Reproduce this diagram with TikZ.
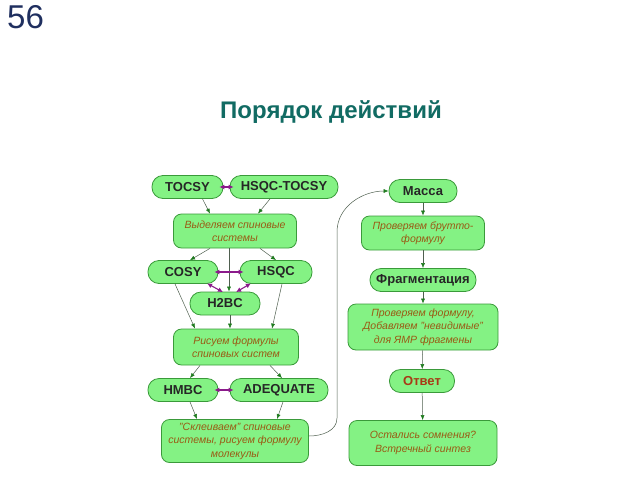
\documentclass[tikz,border=0pt]{standalone}
\usepackage{fontspec}
\setmainfont{Liberation Sans}
\usepackage{xcolor}
\usetikzlibrary{arrows.meta, positioning}

\definecolor{boxfill}{HTML}{84F284}
\definecolor{boxline}{HTML}{3A9A3A}
\definecolor{tipgreen}{HTML}{1E7A1E}
\definecolor{linegray}{HTML}{4F5F4F}
\definecolor{pairline}{HTML}{8B1A8B}
\definecolor{notetext}{HTML}{9A5A14}
\definecolor{answertext}{HTML}{A83A16}
\definecolor{titleteal}{HTML}{116B63}
\definecolor{pagenum}{HTML}{1F2F5F}

\begin{document}
\begin{tikzpicture}[
  x=1pt, y=-1pt,
  box/.style={draw=boxline, fill=boxfill, line width=0.8pt, inner sep=0pt,
              align=center, minimum height=23pt},
  meth/.style={box, rounded corners=11pt, text=black!85,
               font=\fontsize{13}{15}\selectfont\bfseries},
  note/.style={box, rounded corners=8pt, text=notetext,
               font=\fontsize{10.5}{13.5}\selectfont\itshape},
  fl/.style={-{Latex[length=5pt, width=4pt, color=tipgreen]}, draw=linegray, line width=0.5pt},
  pr/.style={{Latex[length=5pt, width=5pt]}-{Latex[length=5pt, width=5pt]}, draw=pairline,
             line width=1.1pt, shorten <=-4pt, shorten >=-4pt}
]
\useasboundingbox (0,0) rectangle (640,480);
\node[anchor=north west, text=pagenum, font=\fontsize{33}{36}\selectfont, inner sep=0pt] (num) at (7,5) {56};
\node[text=titleteal, font=\fontsize{24}{28}\selectfont\bfseries] (title) at (331,112) {Порядок действий};

% left column: NMR
\node[meth, minimum width=71pt] (tocsy) at (187.5,187) {TOCSY};
\node[meth, minimum width=108pt] (hsqctocsy) at (284,187) {HSQC-TOCSY};
\node[note, minimum width=123pt, minimum height=34pt] (spin) at (235,231) {Выделяем спиновые\\системы};
\node[meth, minimum width=70pt] (cosy) at (183,272) {COSY};
\node[meth, minimum width=72pt] (hsqc) at (276,272) {HSQC};
\node[meth, minimum width=70pt] (htbc) at (225,303.5) {H2BC};
\node[note, minimum width=125pt, minimum height=36pt] (draw1) at (236,347) {Рисуем формулы\\спиновых систем};
\node[meth, minimum width=70pt] (hmbc) at (183,390) {HMBC};
\node[meth, minimum width=98pt] (adeq) at (279,390) {ADEQUATE};
\node[note, minimum width=147pt, minimum height=43pt] (glue) at (235,441) {"Склеиваем" спиновые\\системы, рисуем формулу\\молекулы};

% right column: MS
\node[meth, minimum width=68pt] (mass) at (423,191) {Масса};
\node[note, minimum width=123pt, minimum height=34pt] (gross) at (423,233) {Проверяем брутто-\\формулу};
\node[meth, minimum width=106pt] (frag) at (423,280) {Фрагментация};
\node[note, minimum width=150pt, minimum height=46pt] (check) at (423,327) {Проверяем формулу,\\Добавляем "невидимые"\\для ЯМР фрагмены};
\node[meth, minimum width=65pt, text=answertext] (answer) at (422,381) {Ответ};
\node[note, minimum width=148pt, minimum height=45pt] (doubt) at (423,443) {Остались сомнения?\\Встречный синтез};

\draw[pr] (tocsy) -- (hsqctocsy);
\draw[fl] ([xshift=15pt]tocsy.south) -- ([xshift=-25pt]spin.north);
\draw[fl] ([xshift=-14pt]hsqctocsy.south) -- ([xshift=23pt]spin.north);
\draw[fl] ([xshift=-25pt]spin.south) -- ([xshift=7pt]cosy.north);
\draw[fl] ([xshift=25pt]spin.south) -- (hsqc.north);
\draw[fl] ([xshift=-6pt]spin.south) -- ([xshift=4pt]htbc.north);
\draw[pr] (cosy) -- (hsqc);
\draw[pr, shorten <=-1pt, shorten >=-1pt] ([xshift=25pt]cosy.south) -- ([xshift=-3pt]htbc.north);
\draw[pr, shorten <=-1pt, shorten >=-1pt] ([xshift=-26pt]hsqc.south) -- ([xshift=12pt]htbc.north);
\draw[fl] ([xshift=-8pt]cosy.south) -- ([xshift=-41pt]draw1.north);
\draw[fl] ([xshift=5pt]htbc.south) -- ([xshift=-6pt]draw1.north);
\draw[fl] ([xshift=6pt]hsqc.south) -- ([xshift=36pt]draw1.north);
\draw[fl] ([xshift=-36pt]draw1.south) -- ([xshift=7pt]hmbc.north);
\draw[fl] ([xshift=34pt]draw1.south) -- ([xshift=3pt]adeq.north);
\draw[pr] (hmbc) -- (adeq);
\draw[fl] ([xshift=7pt]hmbc.south) -- ([xshift=-38pt]glue.north);
\draw[fl] ([xshift=4pt]adeq.south) -- ([xshift=42pt]glue.north);

\draw[fl] (mass) -- (gross);
\draw[fl] (gross) -- (frag);
\draw[fl] (frag) -- (check);
\draw[fl] (check) -- (answer);
\draw[fl] (answer) -- (doubt);

\coordinate (up1) at (337,418);
\coordinate (up2) at (337,232);
\draw[fl] ([yshift=5pt]glue.east) to[out=0, in=-90] (up1) -- (up2) to[out=90, in=180] (mass.west);
\end{tikzpicture}
\end{document}
